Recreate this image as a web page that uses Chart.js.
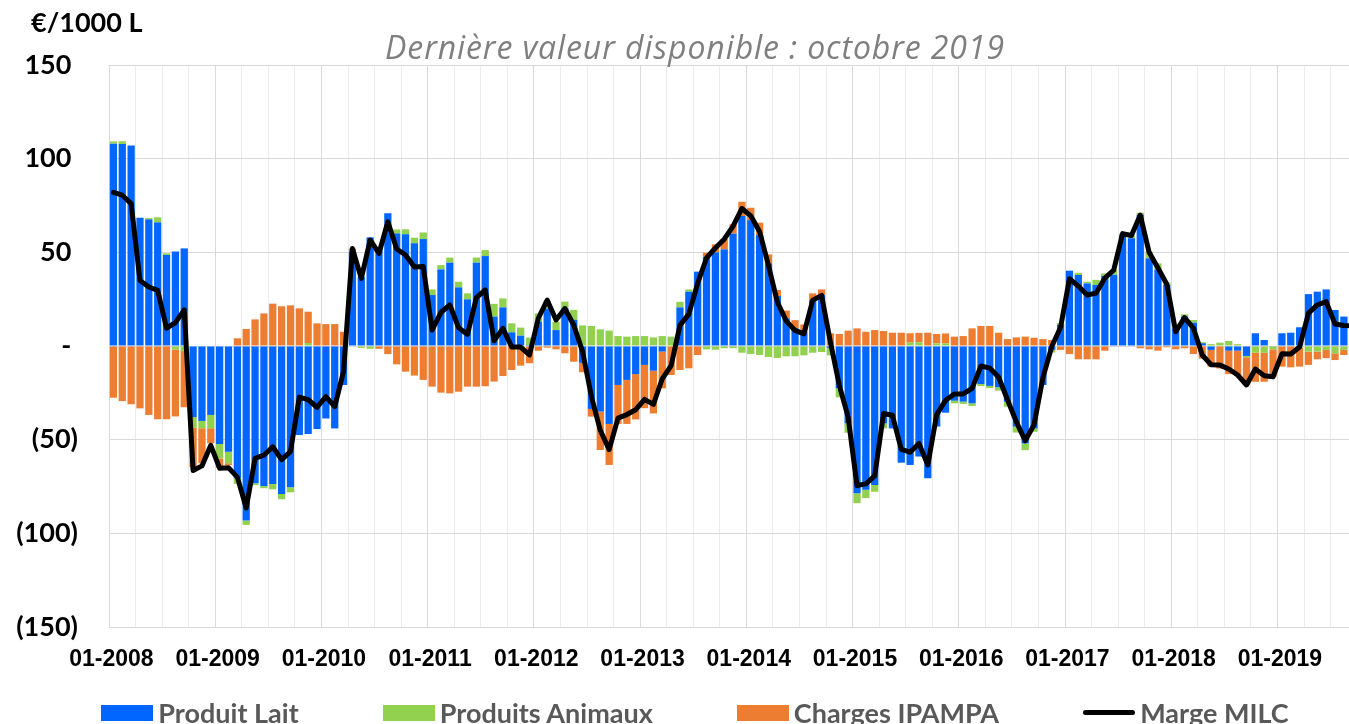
<!DOCTYPE html>
<html lang="fr">
<head>
<meta charset="utf-8">
<title>Marge MILC</title>
<script src="https://cdn.jsdelivr.net/npm/chart.js@4.4.1/dist/chart.umd.min.js"></script>
<style>
    html, body { margin: 0; padding: 0; background: #fff; overflow: hidden; }
    #wrap { position: relative; width: 1390px; height: 724px; }
    #unite { position: absolute; left: 31px; top: 5px; font: bold 27px Lato, sans-serif; color: #000; }
    #titre { position: absolute; left: 0; top: 31px; width: 1390px; text-align: center;
             font: italic 32px/32px "Open Sans", sans-serif; letter-spacing: 0.9px; color: #7f7f7f; }
    #legende { position: absolute; left: 0; top: 696px; width: 1390px; display: flex;
               justify-content: center; gap: 84px; font: bold 27px Lato, sans-serif; color: #595959; }
    #legende .item { display: flex; align-items: center; white-space: nowrap; }
    #legende .cle { width: 52px; height: 16px; margin-right: 5px; }
    #legende .trait { height: 5px; border-radius: 3px; }
</style>
</head>
<body>
<div id="wrap">
    <canvas id="graphique" width="1390" height="724"></canvas>
    <div id="unite">€/1000 L</div>
    <div id="titre">Dernière valeur disponible : octobre 2019</div>
    <div id="legende">
        <div class="item"><span class="cle" style="background:#0066ff"></span>Produit Lait</div>
        <div class="item"><span class="cle" style="background:#92d050"></span>Produits Animaux</div>
        <div class="item"><span class="cle" style="background:#ed7d31"></span>Charges IPAMPA</div>
        <div class="item"><span class="cle trait" style="background:#000"></span>Marge MILC</div>
    </div>
</div>

<script>
// Mois de janvier 2008 à octobre 2019
const annees = [2008, 2009, 2010, 2011, 2012, 2013, 2014, 2015, 2016, 2017, 2018, 2019];
const dernierMois = 10;

// Valeurs en €/1000 L, une ligne par année
const lait = [
    108, 107.8, 107, 68.5, 67.6, 66, 48.6, 50.4, 52.1, -38, -40, -36.8,
    -52.3, -56.4, -70.6, -93.2, -73.3, -74.7, -73.7, -79, -75.4, -47.5, -47, -44.3,
    -38.7, -44, -20.8, 50.5, 37, 58, 51, 70.8, 60.1, 59.6, 54.8, 57.1,
    27.2, 40.9, 44.5, 31.3, 24.9, 44.5, 48, 15.7, 20.6, 7.3, 5.5, 0.5,
    13, 20, 8.5, 20.1, 14, -9, -33.6, -35, -41.6, -20.8, -18.1, -15,
    -10.1, -13.2, -3, 0, 20.6, 29, 39.7, 47.7, 50, 51.6, 60, 69.4,
    67.2, 59.2, 44.1, 26.7, 14.8, 9.4, 7.6, 24.5, 27.2, -1, -22.6, -41.3,
    -78.6, -76.8, -74.2, -41.3, -44, -62.3, -63.5, -59, -70.6, -43, -35.6, -29.2,
    -29.7, -30.6, -20.3, -21.3, -22, -29.7, -43, -52, -44, -20.8, -2, 11.2,
    40.2, 37.9, 33.4, 32.6, 37.4, 38, 59, 57.5, 69.9, 46.8, 40.9, 32.6,
    9.4, 15.7, 12.5, 1.5, -2.1, 0, -2.5, -2.5, -5.3, 6.8, 3.2, 0,
    6.8, 7.1, 10, 27.7, 29, 30.2, 19.2, 15.7, 13, 12
];

const animaux = [
    1.2, 1.5, 0, 0, 0.7, 2.7, 0.9, -2, -2.7, -5.5, -3.9, -7.1,
    -7.7, -6.2, -3, -2.3, -1, -1.2, -2.8, -2.8, -2.7, 0, 1.6, 0,
    0, 0, 0, 0, -1, -1.5, 0, 0, 2.1, 2.7, 3, 3.5,
    3, 2.3, 2.7, 3, 3.2, 2.7, 3.2, 6.8, 4.8, 4.8, 4.3, 4,
    4.4, 4, 4.4, 3.6, 5.3, 11, 10.7, 8.9, 8.2, 5.3, 5, 5.3,
    5.3, 4.6, 5.3, 5, 3, 1.2, 0, -1.8, -2, -1.2, -1.2, -3.6,
    -4.3, -4.8, -5.9, -6.4, -5.5, -5.5, -5, -3.6, -3.2, -4, -4.8, -5,
    -5.3, -4.4, -3.6, -2.7, 0, 0, 1.8, 2, 0, 1.4, 1.4, -1.4,
    -1.2, -1.4, -1.1, -1.2, -1.8, -2.7, -3.2, -3.6, -1.8, 0, -1.5, 1,
    0, 1.2, 0.9, 2.7, 1.4, 2.5, 1, 1.5, 1.2, 3.6, 3.2, 1.2,
    0, 1.2, 1.4, 0.5, 1, 1.8, 2.7, 1, -0.7, -3.6, -3.6, -1.8,
    0, 0, -1, -3, -3, -2.1, -3.9, -2.1, -1.2, -1
];

const ipampa = [
    -27.6, -29.4, -31.1, -33.3, -36.8, -39.1, -39.1, -35.6, -30, -21, -18.7, -8,
    -5, -1, 4.1, 9.1, 14.2, 17.4, 22.6, 21.2, 21.7, 20.1, 16.7, 12.1,
    11.7, 11.7, 7.6, 1.5, 0, 0, -1.5, -4.3, -9.8, -13.7, -15.8, -18.1,
    -21.7, -24.9, -25.3, -24.4, -21.7, -21.7, -21.5, -19, -16, -12.8, -10.5, -9.2,
    -2.5, -0.9, -1.8, -3.9, -8.4, -5, -4.1, -20.5, -21.9, -20.8, -23.5, -24.2,
    -23.1, -22.8, -19.6, -15.5, -12.8, -11.9, -4.8, 2.1, 4.3, 5.5, 5, 7.6,
    6.6, 6.6, 4.8, 3.2, 4.1, 4.4, 3.9, 3.6, 3, 6.8, 6.4, 8.2,
    9.4, 7.6, 8.5, 8, 7.1, 7.1, 5, 5, 7.1, 5, 5.3, 5,
    5.3, 9.4, 10.7, 10.7, 7.1, 3.7, 4.6, 5, 4.4, 3.7, 3.2, -2.1,
    -4.3, -7.1, -7.1, -7.1, -2.5, 0, 0, 0, -1.2, -1.8, -2.5, -0.7,
    -1.8, -1.2, -4.3, -6.8, -8.9, -12, -12.5, -13.5, -14.8, -15.5, -15.5, -14.6,
    -11, -11.4, -10, -7.1, -4.1, -4.4, -3.6, -2.7, -1, -0.5
];

const marge = [
    82, 80.5, 76, 35, 31.5, 29.7, 9.5, 12.5, 19.3, -66.5, -64, -53,
    -65.3, -65, -70, -86.5, -60, -58.3, -53.8, -60.7, -56.4, -27.3, -28.6, -32.7,
    -27, -32.4, -13.5, 52, 36.1, 56.6, 49.4, 66.3, 51.8, 48.6, 42.2, 42.4,
    8.5, 18, 21.9, 9.7, 6.2, 25.8, 29.9, 2.8, 9.4, -0.6, -0.6, -4.8,
    14.8, 24.5, 13.9, 20, 11.2, -3, -27, -45, -55.3, -38.5, -36.6, -34,
    -28.5, -31.2, -17.5, -10.5, 11, 17, 33.5, 47, 52.3, 57, 64, 73.4,
    69.5, 61, 43, 23.5, 13.4, 8.3, 6.5, 24.5, 27, 2, -21, -38,
    -74.5, -73.6, -69.3, -36, -37, -55.2, -56.7, -52, -63.5, -36.6, -29, -25.6,
    -25.6, -22.6, -10.7, -11.8, -16.7, -28.7, -40.5, -50.6, -42, -17, -0.3, 10,
    35.9, 32, 27.2, 28.2, 36.3, 40.5, 60, 59, 69.9, 50, 41.6, 33,
    7.6, 15.2, 9.6, -4.8, -10, -10.2, -12.3, -15.5, -20.8, -12.3, -15.9, -16.4,
    -4.2, -4.3, -0.5, 17.6, 21.9, 23.7, 11.7, 10.9, 10.8, 10.5
];

const mois = [];
annees.forEach(an => {
    const nb = an === annees[annees.length - 1] ? dernierMois : 12;
    for (let m = 1; m <= nb; m++) {
        mois.push(String(m).padStart(2, '0') + '-' + an);
    }
});

function etiquetteY(v) {
    if (v > 0) return v + ' ';
    if (v < 0) return '(' + (-v) + ')';
    return '- ';
}

function couleurGrilleX(c) {
    if (c.index % 12 === 0) return '#d9d9d9';
    if (c.index % 3 === 0) return '#ebebeb';
    return 'rgba(0,0,0,0)';
}

const ctx = document.getElementById('graphique').getContext('2d');

new Chart(ctx, {
    data: {
        labels: mois,
        datasets: [
            {
                type: 'line',
                label: 'Marge MILC',
                data: marge,
                borderColor: '#000000',
                borderWidth: 5,
                pointRadius: 0,
                tension: 0,
                borderJoinStyle: 'round',
                borderCapStyle: 'round',
                stack: 'marge',
                order: 0
            },
            { type: 'bar', label: 'Produit Lait', data: lait, backgroundColor: '#0066ff', stack: 'milc', order: 1 },
            { type: 'bar', label: 'Produits Animaux', data: animaux, backgroundColor: '#92d050', stack: 'milc', order: 1 },
            { type: 'bar', label: 'Charges IPAMPA', data: ipampa, backgroundColor: '#ed7d31', stack: 'milc', order: 1 }
        ]
    },
    options: {
        responsive: false,
        animation: false,
        layout: { padding: { top: 65, right: 24, bottom: 0, left: 0 } },
        datasets: {
            bar: { barPercentage: 0.82, categoryPercentage: 1, borderWidth: 0 }
        },
        plugins: {
            legend: { display: false },
            tooltip: { enabled: false }
        },
        scales: {
            x: {
                stacked: true,
                grid: { offset: true, drawTicks: false, lineWidth: 1, color: couleurGrilleX },
                border: { display: false },
                ticks: {
                    autoSkip: false,
                    maxRotation: 0,
                    minRotation: 0,
                    padding: 19,
                    labelOffset: -2,
                    color: '#000000',
                    font: { family: '"Liberation Sans", Arial, sans-serif', weight: 'bold', size: 23 },
                    callback: (v, i) => (i % 12 === 0 ? mois[i] : '')
                },
                afterFit: s => { s.height = 97; }
            },
            y: {
                stacked: true,
                min: -150,
                max: 150,
                grid: { color: '#d9d9d9', lineWidth: 1, drawTicks: false },
                border: { color: '#d9d9d9' },
                ticks: {
                    stepSize: 50,
                    padding: 31,
                    color: '#000000',
                    font: { family: 'Lato', weight: 'bold', size: 27 },
                    callback: etiquetteY
                },
                afterFit: s => { s.width = 109; }
            }
        }
    }
});
</script>
</body>
</html>
